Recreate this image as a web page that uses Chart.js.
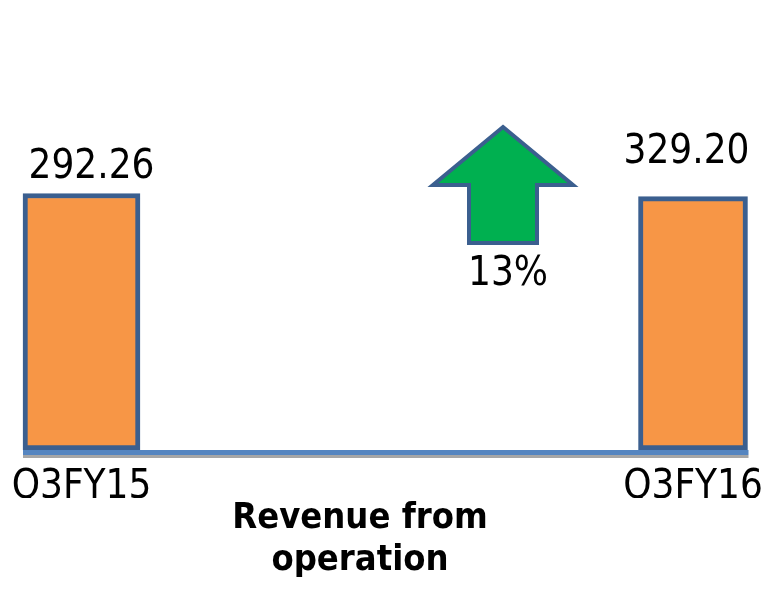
<!DOCTYPE html>
<html>
<head>
<meta charset="utf-8">
<script src="https://cdn.jsdelivr.net/npm/chart.js@4/dist/chart.umd.min.js"></script>
<style>
  html, body { margin: 0; padding: 0; background: #fff; }
  #wrap { width: 765px; height: 592px; }
</style>
</head>
<body>
<div id="wrap"><canvas id="c"></canvas></div>
<script>
/* ── data ─────────────────────────────────────────────── */
const quarters    = ['Q3FY15', 'Q3FY16'];
const revenue     = [292.26, 329.20];
const growthLabel = '13%';
const titleLines  = ['Revenue from', 'operation'];

/* ── styles ───────────────────────────────────────────── */
const ORANGE = '#F79646';
const BORDER = '#3B5F8F';
const LINE_BLUE = '#5585C0';
const LINE_GREY = '#A6A6A6';
const GREEN = '#00B050';
const FONT = '"DejaVu Sans Condensed", "DejaVu Sans", sans-serif';

// hand-placed value label nudges (dx, dy from bar top centre)
const labelNudge = [[10, -15.5], [-6.5, -34]];

const barStyle = {
  backgroundColor: ORANGE,
  borderColor: BORDER,
  borderWidth: 5,
  borderSkipped: false,
  grouped: false,
  clip: false
};

/* ── decorations: value labels, baseline, arrow ───────── */
const decor = {
  id: 'decor',
  afterDatasetsDraw(chart) {
    const ctx = chart.ctx;
    const bars = chart.data.datasets.map((ds, i) => chart.getDatasetMeta(i).data[i]);

    // baseline under the bars
    const y0 = chart.scales.y.getPixelForValue(0);
    const x0 = bars[0].x - bars[0].width / 2;
    const x1 = bars[1].x + bars[1].width / 2 + 1;
    ctx.save();
    ctx.fillStyle = LINE_BLUE;
    ctx.fillRect(x0, y0, x1 - x0, 5);
    ctx.fillStyle = LINE_GREY;
    ctx.fillRect(x0, y0 + 5, x1 - x0, 3);

    // value labels
    ctx.font = '40px ' + FONT;
    ctx.fillStyle = '#000';
    ctx.textAlign = 'center';
    ctx.textBaseline = 'alphabetic';
    bars.forEach((b, i) => {
      ctx.fillText(revenue[i].toFixed(2), b.x + labelNudge[i][0], b.y + labelNudge[i][1]);
    });

    // growth arrow between the bars
    const cx = 503, tipY = 127, headY = 185, baseY = 243, headHalf = 70, shaftHalf = 34;
    ctx.beginPath();
    ctx.moveTo(cx, tipY);
    ctx.lineTo(cx + headHalf, headY);
    ctx.lineTo(cx + shaftHalf, headY);
    ctx.lineTo(cx + shaftHalf, baseY);
    ctx.lineTo(cx - shaftHalf, baseY);
    ctx.lineTo(cx - shaftHalf, headY);
    ctx.lineTo(cx - headHalf, headY);
    ctx.closePath();
    ctx.fillStyle = GREEN;
    ctx.fill();
    ctx.lineWidth = 4;
    ctx.lineJoin = 'miter';
    ctx.strokeStyle = BORDER;
    ctx.stroke();

    ctx.fillStyle = '#000';
    ctx.fillText(growthLabel, cx + 5, 285);
    ctx.restore();
  }
};

/* ── chart ────────────────────────────────────────────── */
new Chart(document.getElementById('c').getContext('2d'), {
  type: 'bar',
  data: {
    labels: quarters,
    datasets: [
      Object.assign({
        label: quarters[0],
        data: [revenue[0], null],
        yAxisID: 'y',
        barThickness: 117
      }, barStyle),
      Object.assign({
        label: quarters[1],
        data: [null, revenue[1]],
        yAxisID: 'y2',
        barThickness: 109
      }, barStyle)
    ]
  },
  options: {
    responsive: true,
    maintainAspectRatio: false,
    animation: false,
    layout: { padding: { top: 99, bottom: 0, left: 0, right: 45 } },
    plugins: {
      legend: { display: false },
      tooltip: { enabled: false },
      title: {
        display: true,
        position: 'bottom',
        text: titleLines,
        color: '#000',
        font: { family: FONT, size: 36, weight: 'bold', lineHeight: 42 / 36 },
        padding: { top: 0, bottom: 10 }
      }
    },
    scales: {
      x: {
        offset: false,
        grid: { display: false, drawTicks: false },
        border: { display: false },
        ticks: {
          color: '#000',
          padding: 14,
          maxRotation: 0,
          font: { family: FONT, size: 40 }
        },
        afterFit: s => { s.paddingLeft = 81.5; s.paddingRight = 72; s.height = 48; }
      },
      y:  { display: false, min: 0, max: 400 },
      y2: { display: false, min: 0, max: 456 }
    }
  },
  plugins: [decor]
});
</script>
</body>
</html>
